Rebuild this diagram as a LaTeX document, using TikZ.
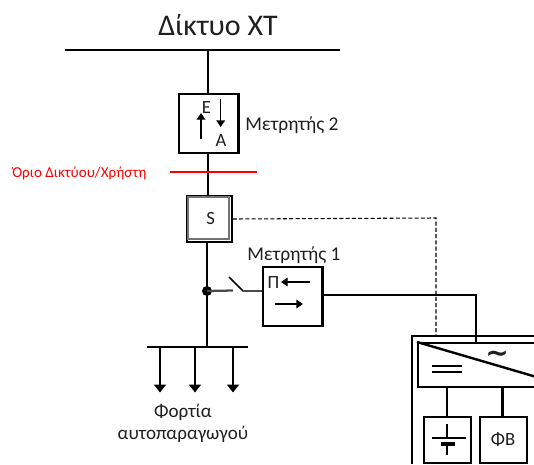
\documentclass[tikz,border=0pt]{standalone}
\usepackage{fontspec}
\setmainfont{Carlito}
\newfontfamily\symfont{DejaVu Sans}
\usetikzlibrary{arrows.meta}
\tikzset{
  px/.style={x=0.75pt,y=-0.75pt},
  wire/.style={line width=1.7pt,black,line cap=butt},
  branch/.style={line width=1.7pt,black},
  thick box/.style={draw=black,line width=1.8pt,fill=white,inner sep=0pt,anchor=north west},
  txt/.style={inner sep=0pt,text=black!88},
  lab/.style={txt,font=\fontsize{14}{14}\selectfont},
  arr/.style={line width=1pt,-{Triangle[length=5pt,width=6.5pt]}},
  loadarr/.style={line width=1.5pt,-{Triangle[length=6pt,width=9pt]}}
}
\begin{document}
\begin{tikzpicture}[px]
\useasboundingbox (0,0) rectangle (534,464);
% coordinates
\coordinate (busL) at (65,50); \coordinate (busR) at (340,50); \coordinate (busT) at (208,50);
\coordinate (redL) at (170,172); \coordinate (redR) at (257,172);
\coordinate (junc) at (207,291);
\coordinate (loadL) at (147,347); \coordinate (loadR) at (248,347); \coordinate (loadT) at (207,347);
% outer converter frame
\draw[line width=1.8pt] (412,464) -- (412,336) -- (534,336);
% inverter
\node[draw=black,line width=1.8pt,fill=white,minimum width=117pt,inner sep=0pt,minimum height=33pt,anchor=north west] (inv) at (417,342) {};
\draw[line width=1.8pt] (inv.north west) -- (inv.south east);
\node[txt,font=\symfont\fontsize{21}{21}\selectfont\bfseries] (tilde) at (497,357) {∼};
\draw[line width=0.9pt] (432,366) -- (462,366) (432,372) -- (462,372);
% boxes
\node[thick box,minimum width=44.5pt,minimum height=44pt] (m2) at (178,93) {};
\node[thick box,minimum width=44.5pt,minimum height=44pt] (m1) at (262,266) {};
\node[draw=black,line width=1.5pt,fill=white,minimum width=34pt,minimum height=34.5pt,inner sep=0pt,anchor=north west] (s) at (185.5,195) {};
\draw[black!55,line width=1.5pt] (187.5,197) rectangle (229,239);
\node[lab] at (210.7,219) {S};
\node[thick box,minimum width=35pt,minimum height=34.5pt] (batt) at (423,416) {};
\node[thick box,minimum width=35pt,minimum height=34.5pt] (pv) at (479,416) {};
\node[lab] at (503,439) {ΦΒ};
% battery symbol
\draw[line width=1.1pt] (432,438) -- (466,438);
\draw[line width=1.5pt] (447,424) -- (447,438);
\draw[line width=2.6pt] (441,444) -- (455,444);
\draw[line width=2.2pt] (447,444) -- (447,455);
% wires
\draw[wire] (busL) -- (busR);
\draw[wire] (busT) -- (m2.north-|busT);
\draw[wire] (m2.south-|busT) -- (s.north-|busT);
\draw[wire] (s.south-|junc) -- (loadT);
\draw[wire] (loadL) -- (loadR);
\draw[line width=1.8pt,red] (redL) -- (redR);
\fill (junc) circle (5);
% switch
\coordinate (sw1) at (233,290.5); \coordinate (sw2) at (243,291); \coordinate (sw3) at (229,277);
\draw[line width=1.7pt,black!70] (junc) -- (sw1);
\draw[line width=1.1pt] (sw3) -- (sw2);
\draw[line width=1.7pt,black!70] (sw2) -- (m1.west|-sw2);
% converter links
\draw[wire] (m1.east|-0,295) -- (476,295) -- (476,342);
\draw[line width=0.8pt,dash pattern=on 3pt off 1.7pt] (s.east) -- (436,218) -- (436,336);
\draw[branch] (447,386) -- (447,416);
\draw[branch] (502.5,386) -- (502.5,416);
% load arrows
\foreach \x in {160,195,233}{\draw[loadarr] (\x,347) -- (\x,392.5);}
% meter arrows
\draw[arr] (201,139) -- (201,113);
\draw[arr] (220.7,99) -- (220.7,127);
\draw[arr] (310,282) -- (281,282);
\draw[arr] (275,304) -- (303,304);
% texts
\node[txt,font=\fontsize{22.5}{23}\selectfont] at (218,25) {Δίκτυο ΧΤ};
\node[lab] at (206.5,108) {Ε};
\node[lab] at (221,141) {Α};
\node[lab] at (273.5,283) {Π};
\node[txt,font=\fontsize{14.6}{15}\selectfont,anchor=west] at (245,125) {Μετρητής 2};
\node[txt,font=\fontsize{14.6}{15}\selectfont,anchor=west] at (247,255) {Μετρητής 1};
\node[inner sep=0pt,text=red,font=\fontsize{11.3}{12}\selectfont,anchor=west] at (12,173) {Όριο Δικτύου/Χρήστη};
\node[txt,font=\fontsize{14.3}{15}\selectfont] at (183,412) {Φορτία};
\node[txt,font=\fontsize{14.3}{15}\selectfont] at (183,434) {αυτοπαραγωγού};
\end{tikzpicture}
\end{document}
